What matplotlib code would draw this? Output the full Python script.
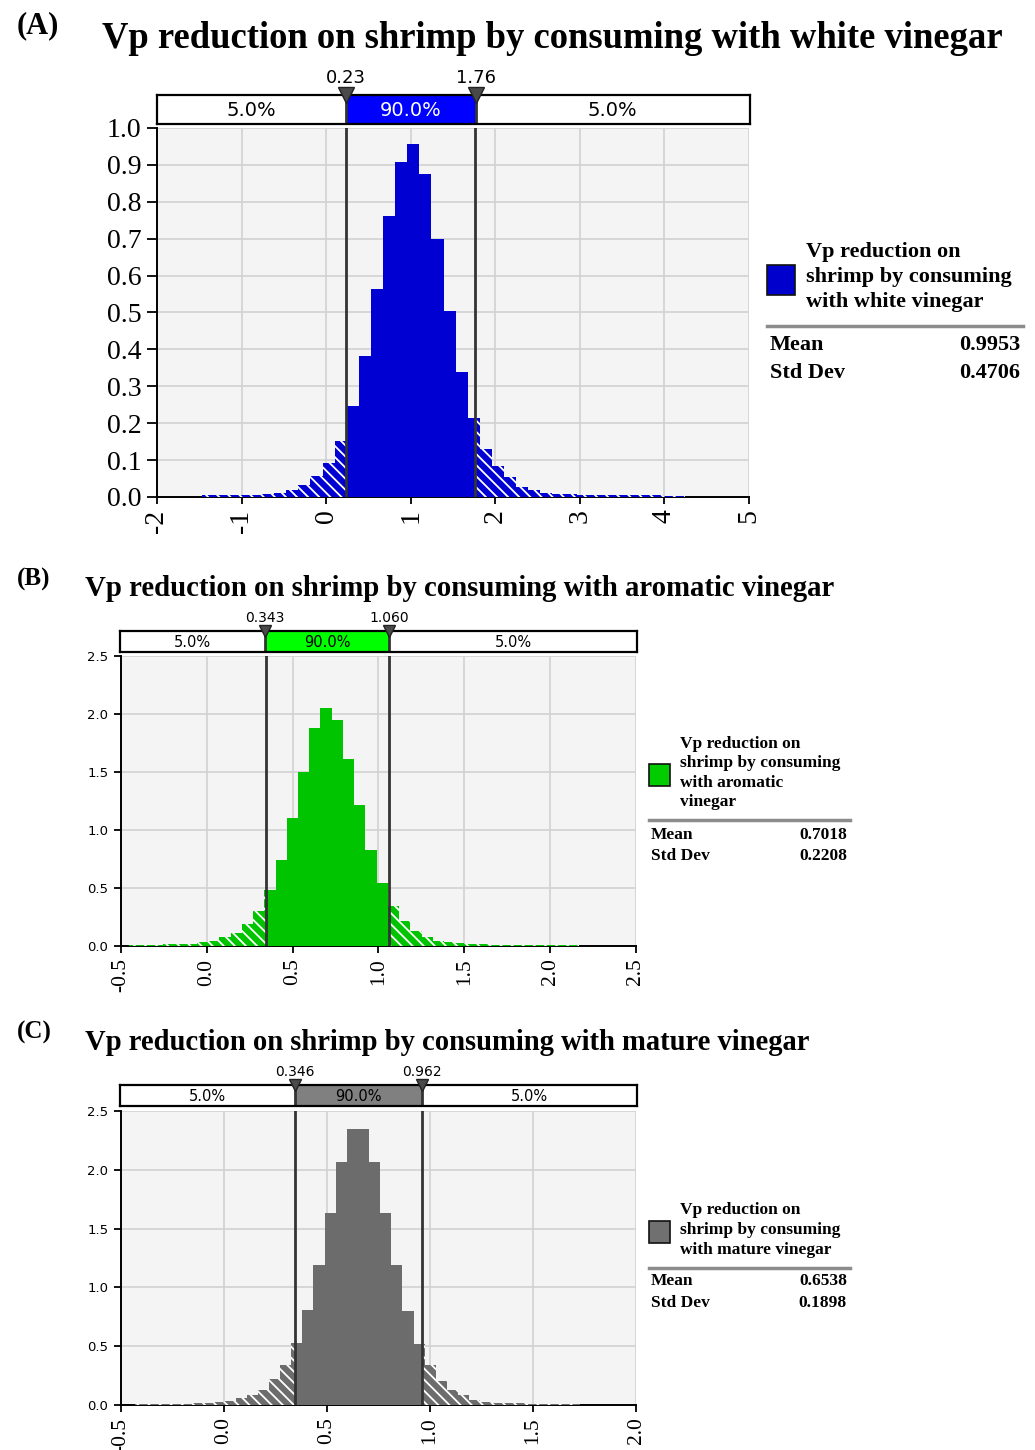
import matplotlib.pyplot as plt
from matplotlib.patches import Rectangle
from matplotlib.lines import Line2D

W, H = 1035, 1450
SERIF = 'Liberation Serif'
SANS = 'DejaVu Sans'

plt.rcParams['hatch.linewidth'] = 1.3

# ---- (A) white vinegar: histogram bins ----
a_start = -1.472
a_bin = 0.143
a_heights = [0.005, 0.005, 0.005, 0.006, 0.006, 0.008, 0.012, 0.020, 0.032, 0.056,
             0.092, 0.151, 0.247, 0.383, 0.564, 0.762, 0.909, 0.956, 0.875, 0.700,
             0.505, 0.338, 0.213, 0.131, 0.083, 0.054, 0.027, 0.018, 0.011, 0.008,
             0.007, 0.006, 0.006, 0.005, 0.005, 0.005, 0.005, 0.005, 0.004, 0.004]
a_cuts = [0.23, 1.76]
a_cut_labels = ['0.23', '1.76']
a_xticks = [-2, -1, 0, 1, 2, 3, 4, 5]
a_xlabels = ['-2', '-1', '0', '1', '2', '3', '4', '5']
a_yticks = [0.0, 0.1, 0.2, 0.3, 0.4, 0.5, 0.6, 0.7, 0.8, 0.9, 1.0]
a_ylabels = ['0.0', '0.1', '0.2', '0.3', '0.4', '0.5', '0.6', '0.7', '0.8', '0.9', '1.0']
a_name = ['Vp reduction on', 'shrimp by consuming', 'with white vinegar']
a_stats = ['0.9953', '0.4706']

# ---- (B) aromatic vinegar ----
b_start = -0.4515
b_bin = 0.0655
b_heights = [0.010, 0.011, 0.012, 0.013, 0.015, 0.020, 0.032, 0.046, 0.075, 0.109,
             0.187, 0.299, 0.480, 0.739, 1.101, 1.503, 1.876, 2.049, 1.945, 1.615,
             1.213, 0.825, 0.540, 0.342, 0.213, 0.132, 0.075, 0.046, 0.032, 0.022,
             0.016, 0.013, 0.012, 0.011, 0.011, 0.010, 0.010, 0.010, 0.010, 0.009]
b_cuts = [0.343, 1.060]
b_cut_labels = ['0.343', '1.060']
b_xticks = [-0.5, 0.0, 0.5, 1.0, 1.5, 2.0, 2.5]
b_xlabels = ['-0.5', '0.0', '0.5', '1.0', '1.5', '2.0', '2.5']
b_yticks = [0.0, 0.5, 1.0, 1.5, 2.0, 2.5]
b_ylabels = ['0.0', '0.5', '1.0', '1.5', '2.0', '2.5']
b_name = ['Vp reduction on', 'shrimp by consuming', 'with aromatic', 'vinegar']
b_stats = ['0.7018', '0.2208']

# ---- (C) mature vinegar ----
c_start = -0.430
c_bin = 0.054
c_heights = [0.010, 0.010, 0.011, 0.011, 0.012, 0.013, 0.016, 0.022, 0.037, 0.062,
             0.085, 0.130, 0.217, 0.344, 0.530, 0.811, 1.189, 1.634, 2.068, 2.346,
             2.346, 2.068, 1.634, 1.189, 0.797, 0.521, 0.344, 0.208, 0.130, 0.085,
             0.039, 0.027, 0.019, 0.015, 0.013, 0.012, 0.011, 0.011, 0.010, 0.010]
c_cuts = [0.346, 0.962]
c_cut_labels = ['0.346', '0.962']
c_xticks = [-0.5, 0.0, 0.5, 1.0, 1.5, 2.0]
c_xlabels = ['-0.5', '0.0', '0.5', '1.0', '1.5', '2.0']
c_yticks = [0.0, 0.5, 1.0, 1.5, 2.0, 2.5]
c_ylabels = ['0.0', '0.5', '1.0', '1.5', '2.0', '2.5']
c_name = ['Vp reduction on', 'shrimp by consuming', 'with mature vinegar']
c_stats = ['0.6538', '0.1898']

fig = plt.figure(figsize=(W / 100, H / 100), dpi=100)


def box(l, t, r, b):
    # pixel box -> figure fraction [left, bottom, width, height]
    return [l / W, 1 - b / H, (r - l) / W, (b - t) / H]


def ftext(x, y, s, **kw):
    fig.text(x / W, 1 - y / H, s, **kw)


def panel(main_box, top_box, start, binw, heights, cuts, cut_labels,
          xticks, xlabels, yticks, ylabels, bar_col, band_col, band_txt,
          xfont, yfont, yfam, pct_size, cut_size, tri_size, ytick_len):
    ax = fig.add_axes(main_box)
    ax.set_facecolor('#f4f4f4')
    lo, hi = cuts
    sl, sw, sh, tl, tw, th = [], [], [], [], [], []
    for i, h in enumerate(heights):
        left = start + i * binw
        right = left + binw
        # split each bin at the cut values: inside = solid, outside = hatched
        parts = [(left, min(right, lo), False), (max(left, lo), min(right, hi), True),
                 (max(left, hi), right, False)]
        for a, b, inside in parts:
            if b <= a:
                continue
            if inside:
                sl.append(a); sw.append(b - a); sh.append(h)
            else:
                tl.append(a); tw.append(b - a); th.append(h)
    ax.bar(sl, sh, width=sw, align='edge', color=bar_col, linewidth=0, zorder=3)
    ax.bar(tl, th, width=tw, align='edge', facecolor=bar_col, edgecolor='white',
           hatch='\\\\\\', linewidth=0, zorder=3)
    for c in cuts:
        ax.axvline(c, color='#333333', lw=2, zorder=4)
    ax.set_xlim(xticks[0], xticks[-1])
    ax.set_ylim(yticks[0], yticks[-1])
    ax.set_xticks(xticks, xlabels, rotation=90, fontfamily=SERIF, fontsize=xfont)
    ax.set_yticks(yticks, ylabels, fontfamily=yfam, fontsize=yfont)
    ax.grid(True, color='#d2d2d2', lw=1.2, zorder=0)
    ax.set_axisbelow(True)
    for s in ['top', 'right']:
        ax.spines[s].set_visible(False)
    for s in ['left', 'bottom']:
        ax.spines[s].set_linewidth(1.4)
    ax.tick_params(axis='y', length=ytick_len, width=1.3, pad=4)
    ax.tick_params(axis='x', length=5, width=1.3, pad=4)

    # percentile band above the plot
    bx = fig.add_axes(top_box)
    bx.set_xlim(xticks[0], xticks[-1])
    bx.set_ylim(0, 1)
    bx.add_patch(Rectangle((lo, 0), hi - lo, 1, facecolor=band_col, edgecolor='none'))
    for c in cuts:
        bx.axvline(c, color='#333333', lw=2)
    for s in bx.spines.values():
        s.set_linewidth(1.6)
    bx.set_xticks([])
    bx.set_yticks([])
    bx.text((xticks[0] + lo) / 2, 0.45, '5.0%', ha='center', va='center',
            fontfamily=SANS, fontsize=pct_size)
    bx.text((lo + hi) / 2, 0.45, '90.0%', ha='center', va='center',
            fontfamily=SANS, fontsize=pct_size, color=band_txt)
    bx.text((hi + xticks[-1]) / 2, 0.45, '5.0%', ha='center', va='center',
            fontfamily=SANS, fontsize=pct_size)
    bx.plot(cuts, [1, 1], ls='none', marker='v', ms=tri_size, color='#4a4a4a',
            mec='#222222', clip_on=False, zorder=5)
    for c, lab in zip(cuts, cut_labels):
        bx.annotate(lab, (c, 1), xytext=(0, tri_size * 0.55), textcoords='offset points',
                    ha='center', va='bottom', fontfamily=SANS, fontsize=cut_size)
    return ax


def legend(sq, color, name, name_x, name_ys, sep, stat_vals, stat_x, val_x, stat_ys, size):
    fig.add_artist(Rectangle((sq[0] / W, 1 - sq[3] / H), (sq[2] - sq[0]) / W,
                             (sq[3] - sq[1]) / H, transform=fig.transFigure,
                             facecolor=color, edgecolor='#111111', lw=1.2))
    for s, y in zip(name, name_ys):
        ftext(name_x, y, s, ha='left', va='center', fontfamily=SERIF,
              fontweight='bold', fontsize=size)
    fig.add_artist(Line2D([sep[0] / W, sep[1] / W], [1 - sep[2] / H] * 2,
                          transform=fig.transFigure, color='#8c8c8c', lw=2.5))
    for lab, val, y in zip(['Mean', 'Std Dev'], stat_vals, stat_ys):
        ftext(stat_x, y, lab, ha='left', va='center', fontfamily=SERIF,
              fontweight='bold', fontsize=size)
        ftext(val_x, y, val, ha='right', va='center', fontfamily=SERIF,
              fontweight='bold', fontsize=size)


# ---------------- panel A ----------------
ftext(17, 26, '(A)', ha='left', va='center', fontfamily=SERIF, fontweight='bold', fontsize=22)
ftext(102, 39, 'Vp reduction on shrimp by consuming with white vinegar', ha='left',
      va='center', fontfamily=SERIF, fontweight='bold', fontsize=26.4)
panel(box(157, 128, 749, 497), box(157, 95, 750, 124), a_start, a_bin, a_heights,
      a_cuts, a_cut_labels, a_xticks, a_xlabels, a_yticks, a_ylabels,
      '#0000d2', '#0000ff', 'white', 20, 20, SERIF, 14, 13, 11, 7)
legend((767, 265, 795, 295), '#0000cc', a_name, 806, [252, 277, 302],
       (767, 1023, 326), a_stats, 770, 1020, [345, 373], 16)

# ---------------- panel B ----------------
ftext(17, 579, '(B)', ha='left', va='center', fontfamily=SERIF, fontweight='bold', fontsize=18)
ftext(85, 588, 'Vp reduction on shrimp by consuming with aromatic vinegar', ha='left',
      va='center', fontfamily=SERIF, fontweight='bold', fontsize=20.7)
panel(box(121, 656, 636, 946), box(120, 631, 637, 652), b_start, b_bin, b_heights,
      b_cuts, b_cut_labels, b_xticks, b_xlabels, b_yticks, b_ylabels,
      '#00c400', '#00ff00', 'black', 15.5, 9.5, SANS, 10.5, 10, 8, 5)
legend((649, 764, 670, 786), '#00cc00', b_name, 680, [744, 763, 783, 802],
       (649, 850, 820), b_stats, 651, 847, [835, 856], 12.5)

# ---------------- panel C ----------------
ftext(17, 1032, '(C)', ha='left', va='center', fontfamily=SERIF, fontweight='bold', fontsize=18)
ftext(85, 1042, 'Vp reduction on shrimp by consuming with mature vinegar', ha='left',
      va='center', fontfamily=SERIF, fontweight='bold', fontsize=20.6)
panel(box(121, 1111, 636, 1405), box(120, 1085, 637, 1106), c_start, c_bin, c_heights,
      c_cuts, c_cut_labels, c_xticks, c_xlabels, c_yticks, c_ylabels,
      '#6c6c6c', '#808080', 'black', 15.5, 9.5, SANS, 10.5, 10, 8, 5)
legend((649, 1221, 670, 1243), '#707070', c_name, 680, [1210, 1230, 1250],
       (649, 850, 1268), c_stats, 651, 847, [1281, 1303], 12.5)

fig.savefig('out.png', dpi=100)
